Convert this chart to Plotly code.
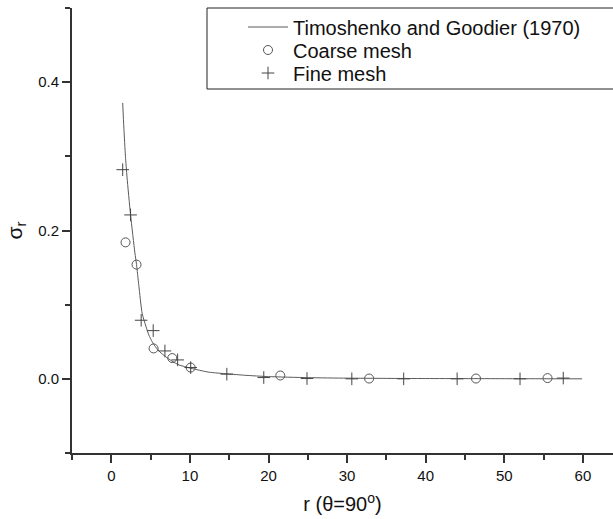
import plotly.graph_objects as go

# Theoretical curve (Timoshenko and Goodier, 1970)
r_theory = [1.45, 1.6, 1.8, 2.0, 2.45, 3.0, 3.21, 3.5, 3.93, 4.4, 4.78, 5.2, 5.63,
            6.2, 6.9, 7.7, 8.6, 10.1, 12.4, 14.8, 17.0, 20.0, 25.0, 30.0, 35.0,
            40.0, 45.0, 50.0, 55.0, 59.9]
s_theory = [0.372, 0.338, 0.300, 0.272, 0.221, 0.170, 0.154, 0.126, 0.088, 0.071,
            0.059, 0.050, 0.043, 0.036, 0.030, 0.024, 0.0188, 0.0143, 0.009, 0.0067,
            0.0048, 0.0030, 0.0016, 0.0009, 0.0006, 0.0004, 0.0003, 0.0002, 0.0001, 0.0]

# Coarse mesh results
r_coarse = [1.81, 3.21, 5.38, 7.76, 10.1, 21.5, 32.8, 46.4, 55.5]
s_coarse = [0.184, 0.154, 0.041, 0.028, 0.0152, 0.0045, 0.0004, 0.0004, 0.001]

# Fine mesh results
r_fine = [1.45, 2.45, 3.8, 5.33, 6.82, 8.44, 10.1, 14.7, 19.4, 24.9, 30.6,
          37.2, 44.0, 52.0, 57.5]
s_fine = [0.282, 0.221, 0.079, 0.065, 0.0376, 0.0255, 0.0152, 0.0063, 0.0017,
          0.0004, 0.0, 0.0, 0.0, 0.0, 0.001]

x_tickvals = [0, 10, 20, 30, 40, 50, 60]
y_tickvals = [0.0, 0.2, 0.4]

FONT = "Liberation Sans, Arial, sans-serif"
AX = "#333333"

fig = go.Figure()
fig.add_trace(go.Scatter(
    x=r_theory, y=s_theory, mode="lines", name="Timoshenko and Goodier (1970)",
    line=dict(color="#5a5a5a", width=1, shape="spline", smoothing=0.6),
    legend="legend"))
fig.add_trace(go.Scatter(
    x=r_coarse, y=s_coarse, mode="markers", name="Coarse mesh",
    marker=dict(symbol="circle-open", size=9, color="#555555",
                line=dict(width=1, color="#555555")),
    legend="legend2"))
fig.add_trace(go.Scatter(
    x=r_fine, y=s_fine, mode="markers", name="Fine mesh",
    marker=dict(symbol="cross-thin-open", size=9, color="#444444",
                line=dict(width=1, color="#444444")),
    legend="legend3"))

W, H = 613, 519
ml, mt, mb, mr = 72, 8, 66, 0
pw, ph = W - ml - mr, H - mt - mb

def px_x(p):
    return (p - ml) / pw

def px_y(p):
    return (H - mb - p) / ph

fig.add_shape(type="rect", xref="paper", yref="paper",
              x0=px_x(207), x1=px_x(640), y0=px_y(89), y1=px_y(8),
              line=dict(color="#222222", width=1), fillcolor="rgba(0,0,0,0)")

def leg(row_px):
    return dict(x=px_x(243), y=px_y(row_px), xanchor="left", yanchor="middle",
                bgcolor="rgba(0,0,0,0)", borderwidth=0,
                font=dict(size=20, family=FONT, color="#111111"),
                itemwidth=40)

fig.update_layout(
    width=W, height=H,
    margin=dict(l=ml, r=mr, t=mt, b=mb),
    paper_bgcolor="white", plot_bgcolor="white",
    font=dict(family=FONT, color="#111111"),
    showlegend=True,
    legend=leg(27), legend2=leg(50), legend3=leg(73),
    xaxis=dict(range=[-5, (W - ml) / 7.86 - 5], showgrid=False, zeroline=False,
               showline=True, linecolor=AX, linewidth=2,
               tickvals=x_tickvals, ticks="outside", ticklen=8, tickwidth=1.5,
               tickcolor=AX, tickfont=dict(size=15, family=FONT, color="#111111"),
               minor=dict(ticks="outside", ticklen=5, tickwidth=1.5, tickcolor=AX,
                          dtick=5, tick0=0),
               title=dict(text="r (θ=90<sup>o</sup>)", font=dict(size=20, family=FONT),
                          standoff=14)),
    yaxis=dict(range=[-0.1, 0.5], showgrid=False, zeroline=False,
               showline=True, linecolor=AX, linewidth=2,
               tickvals=y_tickvals, tickformat=".1f", ticks="outside", ticklen=8,
               tickwidth=1.5, tickcolor=AX,
               tickfont=dict(size=15, family=FONT, color="#111111"),
               minor=dict(ticks="outside", ticklen=5, tickwidth=1.5, tickcolor=AX,
                          dtick=0.1, tick0=0),
               title=dict(text="σ<sub>r</sub>", font=dict(size=21, family=FONT),
                          standoff=10)),
)

fig.write_html("out.html")
